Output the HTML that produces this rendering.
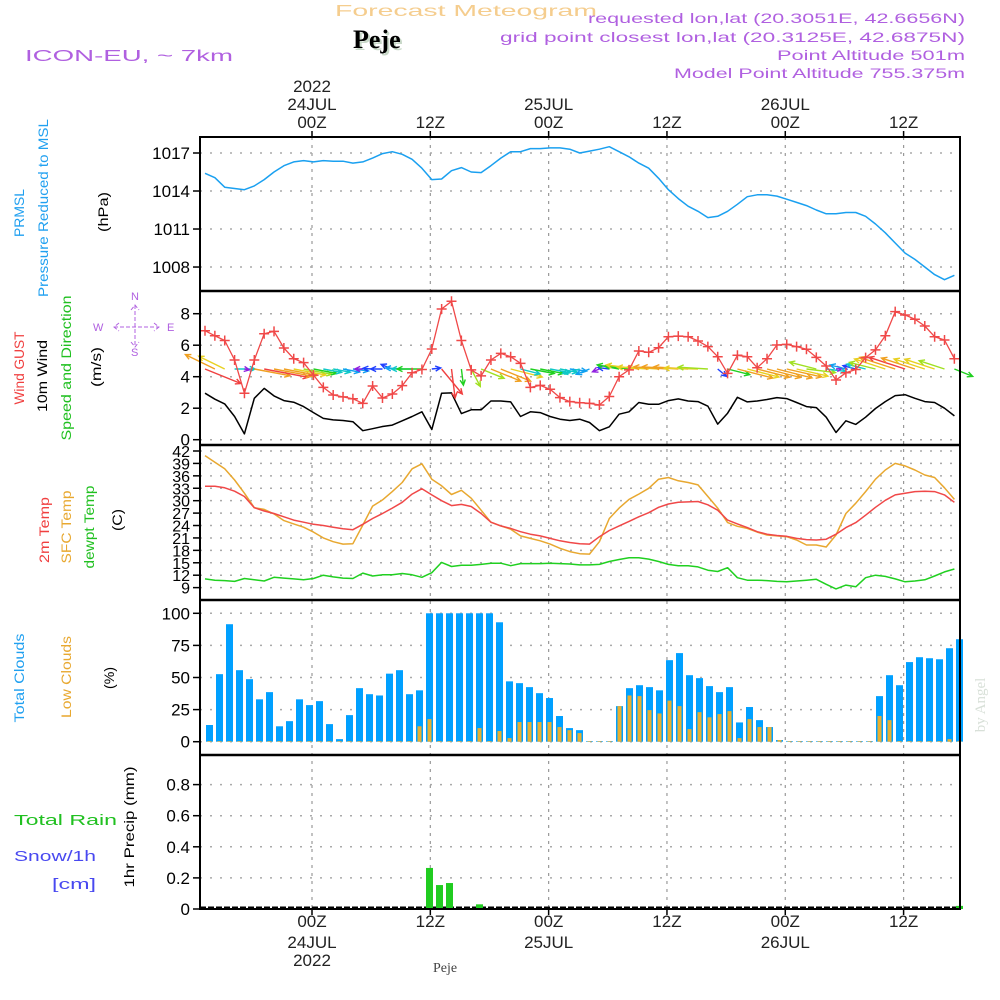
<!DOCTYPE html>
<html><head><meta charset="utf-8"><style>
html,body{margin:0;padding:0;background:#fff;}
svg{display:block;font-family:"Liberation Sans",sans-serif;}
</style></head><body>
<svg id="chart" width="1000" height="1000" viewBox="0 0 1000 1000" xmlns="http://www.w3.org/2000/svg">
<rect width="1000" height="1000" fill="#fff"/>
<g id="grid"></g>
<g id="marks"></g>
<g id="frames"></g>
<g id="labels">
<text x="335" y="16" font-size="16" fill="#f5cd8e" textLength="262" lengthAdjust="spacingAndGlyphs">Forecast Meteogram</text>
<text x="355" y="50" font-size="26" font-weight="bold" font-family="Liberation Serif,serif" fill="#c8d8c8">Peje</text>
<text x="353" y="48" font-size="26" font-weight="bold" font-family="Liberation Serif,serif" fill="#000">Peje</text>
<text x="25" y="61" font-size="16" fill="#b060e0" textLength="208" lengthAdjust="spacingAndGlyphs">ICON-EU, ~ 7km</text>
<g fill="#b060e0" font-size="14" text-anchor="end">
<text x="965" y="23" textLength="377" lengthAdjust="spacingAndGlyphs">requested lon,lat (20.3051E, 42.6656N)</text>
<text x="965" y="42" textLength="465" lengthAdjust="spacingAndGlyphs">grid point closest lon,lat (20.3125E, 42.6875N)</text>
<text x="965" y="60" textLength="188" lengthAdjust="spacingAndGlyphs">Point Altitude 501m</text>
<text x="965" y="78" textLength="291" lengthAdjust="spacingAndGlyphs">Model Point Altitude 755.375m</text>
</g>
<g font-size="14">
<text transform="translate(24,213) rotate(-90)" text-anchor="middle" fill="#20a0f0" textLength="48" lengthAdjust="spacingAndGlyphs">PRMSL</text>
<text transform="translate(48,208) rotate(-90)" text-anchor="middle" fill="#20a0f0" textLength="178" lengthAdjust="spacingAndGlyphs">Pressure Reduced to MSL</text>
<text transform="translate(108,212) rotate(-90)" text-anchor="middle" fill="#000" textLength="40" lengthAdjust="spacingAndGlyphs">(hPa)</text>
<text transform="translate(24,368) rotate(-90)" text-anchor="middle" fill="#f04040" textLength="73" lengthAdjust="spacingAndGlyphs">Wind GUST</text>
<text transform="translate(47,376) rotate(-90)" text-anchor="middle" fill="#000" textLength="72" lengthAdjust="spacingAndGlyphs">10m Wind</text>
<text transform="translate(71,368) rotate(-90)" text-anchor="middle" fill="#20c020" textLength="145" lengthAdjust="spacingAndGlyphs">Speed and Direction</text>
<text transform="translate(101,367) rotate(-90)" text-anchor="middle" fill="#000" textLength="40" lengthAdjust="spacingAndGlyphs">(m/s)</text>
<text transform="translate(49,530) rotate(-90)" text-anchor="middle" fill="#f04040" textLength="66" lengthAdjust="spacingAndGlyphs">2m Temp</text>
<text transform="translate(71,527) rotate(-90)" text-anchor="middle" fill="#e8a830" textLength="73" lengthAdjust="spacingAndGlyphs">SFC Temp</text>
<text transform="translate(94,527) rotate(-90)" text-anchor="middle" fill="#20c020" textLength="83" lengthAdjust="spacingAndGlyphs">dewpt Temp</text>
<text transform="translate(122,520) rotate(-90)" text-anchor="middle" fill="#000" textLength="22" lengthAdjust="spacingAndGlyphs">(C)</text>
<text transform="translate(24,678) rotate(-90)" text-anchor="middle" fill="#20a0f0" textLength="89" lengthAdjust="spacingAndGlyphs">Total Clouds</text>
<text transform="translate(71,677) rotate(-90)" text-anchor="middle" fill="#e8a830" textLength="82" lengthAdjust="spacingAndGlyphs">Low Clouds</text>
<text transform="translate(114,678) rotate(-90)" text-anchor="middle" fill="#000" textLength="22" lengthAdjust="spacingAndGlyphs">(%)</text>
<text transform="translate(134,827) rotate(-90)" text-anchor="middle" fill="#000" textLength="121" lengthAdjust="spacingAndGlyphs">1hr Precip (mm)</text>
</g>
<g font-size="15">
<text x="14" y="825" fill="#20c020" textLength="103" lengthAdjust="spacingAndGlyphs">Total   Rain</text>
<text x="14" y="861" fill="#4848f0" textLength="82" lengthAdjust="spacingAndGlyphs">Snow/1h</text>
<text x="52" y="889" fill="#4848f0" textLength="44" lengthAdjust="spacingAndGlyphs">[cm]</text>
</g>
<g fill="#b060e0" stroke="#b060e0" font-size="11">
<text x="131" y="300" stroke="none">N</text><text x="93" y="331" stroke="none">W</text><text x="167" y="331" stroke="none">E</text><text x="131" y="356" stroke="none">S</text>
<path d="M114 327 H159 M135 305 V347 M119 323 L114 327 L119 331 M154 323 L159 327 L154 331 M131 310 L135 305 L139 310 M131 342 L135 347 L139 342" fill="none" stroke-width="1" stroke-dasharray="4 2"/>
</g>
<text transform="translate(985,705) rotate(-90)" text-anchor="middle" font-family="Liberation Serif,serif" font-size="15" fill="#d8e0d8">by Angel</text>
<text x="445" y="972" text-anchor="middle" font-family="Liberation Serif,serif" font-size="14" fill="#444">Peje</text>
</g>
</svg>
<script>
const tickHours=[0,12,24,36,48,60];
const tickTimes=["00Z","12Z","00Z","12Z","00Z","12Z"];
const tickDates=["24JUL","","25JUL","","26JUL",""];
const tickYears=["2022","","","","",""];
const pressTicks=[1017,1014,1011,1008];
const windTicks=[0,2,4,6,8];
const tempTicks=[9,12,15,18,21,24,27,30,33,36,39,42];
const cloudTicks=[0,25,50,75,100];
const precipTicks=[0,0.2,0.4,0.6,0.8];
const pressure=[1015.4,1015.05,1014.3,1014.2,1014.1,1014.4,1014.9,1015.5,1016.0,1016.3,1016.4,1016.3,1016.4,1016.35,1016.35,1016.2,1016.3,1016.6,1016.95,1017.1,1016.9,1016.5,1015.8,1014.9,1014.95,1015.6,1015.85,1015.5,1015.45,1016.0,1016.6,1017.1,1017.1,1017.35,1017.35,1017.4,1017.4,1017.3,1017.0,1017.15,1017.3,1017.5,1017.1,1016.7,1016.2,1015.8,1015.0,1014.1,1013.4,1012.8,1012.4,1011.9,1012.0,1012.4,1012.95,1013.55,1013.7,1013.7,1013.6,1013.35,1013.1,1012.85,1012.5,1012.2,1012.2,1012.3,1012.3,1012.0,1011.4,1010.7,1009.9,1009.1,1008.6,1008.0,1007.4,1007.0,1007.35];
const gust=[6.92,6.6,6.3,5.06,2.95,5.06,6.73,6.88,5.82,5.14,4.89,4.1,3.32,2.84,2.72,2.6,2.31,3.41,2.65,2.9,3.43,4.25,4.46,5.76,8.3,8.79,6.3,4.43,4.05,5.06,5.48,5.27,4.85,3.32,3.45,3.2,2.67,2.42,2.35,2.31,2.2,2.74,4.0,4.43,5.63,5.55,5.84,6.54,6.58,6.54,6.27,5.91,5.27,4.21,5.36,5.27,4.57,5.14,6.01,6.05,5.91,5.74,5.23,4.68,3.79,4.25,4.46,5.21,5.7,6.6,8.13,7.92,7.65,7.22,6.54,6.33,5.14];
const wind10=[2.95,2.57,2.27,1.47,0.37,2.63,3.26,2.78,2.48,2.38,2.1,1.72,1.35,1.26,1.22,1.14,0.57,0.7,0.84,0.93,1.2,1.47,1.77,0.65,2.95,2.97,1.66,1.9,1.9,2.46,2.46,2.4,1.47,1.77,1.72,1.47,1.3,1.22,1.3,1.09,0.57,0.82,1.62,1.77,2.36,2.25,2.25,2.48,2.59,2.46,2.42,2.13,0.99,1.68,2.69,2.4,2.46,2.55,2.67,2.61,2.36,2.1,2.04,1.43,0.46,1.2,0.97,1.43,1.98,2.42,2.8,2.86,2.63,2.42,2.36,2.0,1.51];
const windToDir=[120,305,305,90,105,105,105,105,105,105,105,105,105,105,105,100,270,275,270,300,275,270,270,80,150,175,175,160,120,120,120,110,110,105,105,105,105,100,250,240,240,280,285,280,280,275,275,275,275,275,272,275,140,110,110,110,110,110,110,108,108,100,290,100,80,290,290,290,290,295,295,295,295,295,295,295,120];
const temp2m=[33.5,33.5,33.1,32.3,31.0,28.3,27.5,26.9,26.1,25.3,24.8,24.3,24.0,23.6,23.2,23.0,24.3,25.7,26.9,28.2,29.6,31.6,32.9,31.4,30.0,28.8,29.1,28.6,26.9,24.8,23.9,23.3,22.5,21.9,21.5,20.9,20.3,19.9,19.6,19.5,21.3,22.8,23.9,25.0,26.1,27.1,28.4,29.2,29.6,29.7,29.8,29.0,27.7,25.3,24.4,23.5,22.5,21.9,21.6,21.4,20.9,20.6,20.5,20.7,21.9,23.5,24.7,26.5,28.4,30.1,31.4,31.8,32.2,32.3,32.2,31.4,29.6];
const tempSfc=[40.9,39.3,37.7,35.0,31.8,28.3,27.9,26.8,25.2,24.4,23.6,22.4,21.0,20.1,19.5,19.6,24.1,28.7,30.2,32.2,34.4,37.7,38.9,35.2,33.6,31.5,32.5,30.6,27.7,24.8,23.9,23.1,21.5,20.9,20.3,19.5,18.5,17.7,17.2,17.1,20.1,25.7,28.2,30.3,31.6,33.0,35.2,35.6,34.8,34.4,33.8,31.0,28.2,24.7,23.8,23.3,22.4,21.7,21.5,21.3,20.5,19.3,19.3,18.8,21.7,26.9,29.4,32.2,35.2,37.4,39.0,38.4,37.4,36.2,35.6,33.1,30.3];
const dewpt=[11.1,10.8,10.7,10.5,11.2,10.9,10.6,11.5,11.3,11.1,10.9,11.2,12.0,11.6,11.3,11.2,12.5,11.8,12.1,12.1,12.4,12.1,11.5,12.6,15.1,14.1,14.4,14.4,14.6,14.9,14.9,14.3,14.8,14.8,14.8,14.9,14.8,14.7,14.5,14.5,14.6,15.3,15.8,16.2,16.2,15.9,15.3,14.6,14.3,14.3,14.0,13.2,12.9,13.8,11.4,10.8,10.8,10.7,10.5,10.4,10.6,10.8,11.0,9.8,8.7,9.6,9.2,11.4,12.0,11.7,11.1,10.4,10.6,10.9,11.8,12.8,13.5];
const totalClouds=[13,52.6,91.5,55.7,48.7,33,38.6,12,16,33,28.5,31.6,13.7,2,20.7,41.7,37,36,53,55.7,37,40,100,100,100,100,100,100,100,93,47,45.6,42.5,37.8,34,20,10.6,9,0.5,0.5,0.5,27.7,41.7,44,42.5,40,63.5,69,51.8,49.5,43.3,38.6,42.5,15,27,16.8,11.4,1.3,0.5,0.5,0.5,0.5,0.5,0.5,0.5,0.5,0.5,35.5,51.8,44,62,65.8,65,64.2,72.8,79.8];
const lowClouds=[0.5,0.5,0.5,0.5,0.5,0.5,0.5,0.5,0.5,0.5,0.5,0.5,0.5,0.5,0.5,0.5,0.5,0.5,0.5,0.5,0.5,12,17.6,0.5,0.5,0.5,0.5,10.6,0.5,8.3,2.8,15.3,15.3,15.3,15.3,11.4,9,6.7,0.5,0.5,0.5,27.7,36,35.5,24.6,22,32,27.7,9.8,23,19,21.5,23.8,2.8,17.6,11.4,11.4,1.3,0.5,0.5,0.5,0.5,0.5,0.5,0.5,0.5,0.5,20,16.8,0.5,0.5,0.5,0.5,0.5,2,0.5];
const precip=[0,0,0,0,0,0,0,0,0,0,0,0,0,0,0,0,0,0,0,0,0,0,0.264,0.154,0.167,0,0,0.03,0,0,0,0,0,0,0,0,0,0,0,0,0,0,0,0,0,0,0,0,0,0,0,0,0,0,0,0,0,0,0,0,0,0,0,0,0,0,0,0,0,0,0,0,0,0,0,0.02];

const NS="http://www.w3.org/2000/svg";
const L=200,R=960;
const panels=[[137,291],[291,445],[445,600],[600,755],[755,909]];
const xT=h=>312+h*9.86;
const xL=k=>205+k*9.86;
const xB=i=>209.5+i*10;
const yP=v=>153+(1017-v)*12.67;
const yW=v=>439.7-v*15.75;
const yT=v=>451+(42-v)*4.14;
const yC=v=>741.7-v*1.284;
const yR=v=>909-v*155.5;
function mk(tag,attrs,parent){const e=document.createElementNS(NS,tag);for(const k in attrs)e.setAttribute(k,attrs[k]);parent.appendChild(e);return e;}
const grid=document.getElementById('grid'),marks=document.getElementById('marks'),frames=document.getElementById('frames'),labels=document.getElementById('labels');

tickHours.forEach((h,j)=>{
  const ln=mk('line',{x1:xT(h),x2:xT(h),y1:137,y2:909,stroke:'#999','stroke-width':1.2,'stroke-dasharray':'3 5'},grid);
  
  
  const tk=mk('line',{x1:xT(h),x2:xT(h),y1:131,y2:137,stroke:'#000','stroke-width':1.5},frames);
  
  
  const tb=mk('line',{x1:xT(h),x2:xT(h),y1:909,y2:915,stroke:'#000','stroke-width':1.5},frames);
  
  
  const t1=mk('text',{x:xT(h),y:128,'text-anchor':'middle','font-size':17,fill:'#222'},labels);t1.textContent=tickTimes[j];
  
  
  const b1=mk('text',{x:xT(h),y:927,'text-anchor':'middle','font-size':17,fill:'#222'},labels);b1.textContent=tickTimes[j];
  
  
  if(tickDates[j]){
    const t2=mk('text',{x:xT(h),y:110,'text-anchor':'middle','font-size':17,fill:'#222'},labels);t2.textContent=tickDates[j];
    
    
    const b2=mk('text',{x:xT(h),y:948,'text-anchor':'middle','font-size':17,fill:'#222'},labels);b2.textContent=tickDates[j];
    
    
  }
  if(tickYears[j]){
    const t3=mk('text',{x:xT(h),y:92,'text-anchor':'middle','font-size':17,fill:'#222'},labels);t3.textContent=tickYears[j];
    
    
    const b3=mk('text',{x:xT(h),y:966,'text-anchor':'middle','font-size':17,fill:'#222'},labels);b3.textContent=tickYears[j];
    
    
  }
});

function yAxis(ticks,scale,fmt,name,fs,gridOn){
  ticks.forEach(v=>{
    const y=scale(v);
    if(gridOn){const g=mk('line',{x1:L,x2:R,y1:y,y2:y,stroke:'#aaa','stroke-width':1.5,'stroke-dasharray':'2 8'},grid);
      
      }
    const t=mk('line',{x1:L-7,x2:L,y1:y,y2:y,stroke:'#000','stroke-width':1.5},frames);
    
    
    const tx=mk('text',{x:L-10,y:y+6,'text-anchor':'end','font-size':fs,fill:'#000'},labels);tx.textContent=fmt(v);
    
    
  });
}
yAxis(pressTicks,yP,v=>String(v),'pressure-axis',17,true);
yAxis(windTicks,yW,v=>String(v),'wind-axis',17,true);
yAxis(tempTicks,yT,v=>String(v),'temp-axis',16,true);
yAxis(cloudTicks,yC,v=>String(v),'cloud-axis',17,true);
yAxis(precipTicks,yR,v=>v===0?'0':v.toFixed(1),'precip-axis',17,true);

function line(arr,xs,ys,color,name,w){
  const d=arr.map((v,k)=>(k?'L':'M')+xs(k).toFixed(1)+' '+ys(v).toFixed(1)).join(' ');
  const p=mk('path',{d:d,fill:'none',stroke:color,'stroke-width':w||1.5,'stroke-linejoin':'round'},marks);
  
  
}
totalClouds.forEach((v,i)=>{
  const r=mk('rect',{x:xB(i)-3.5,y:yC(v),width:7,height:yC(0)-yC(v),fill:'#00a0ff'},marks);
  
  
});
lowClouds.forEach((v,i)=>{
  const r=mk('rect',{x:xB(i)-2,y:yC(v),width:4,height:yC(0)-yC(v),fill:'#e8b030'},marks);
  
  
});
const zl=mk('line',{x1:L,x2:R,y1:907.5,y2:907.5,stroke:'#000','stroke-width':2,'stroke-dasharray':'6 2'},marks);


precip.forEach((v,i)=>{
  if(v<=0)return;
  const r=mk('rect',{x:xB(i)-3.5,y:yR(v),width:7,height:yR(0)-yR(v),fill:'#20cc20'},marks);
  
  
});
line(pressure,xL,yP,'#1aa0f0','pressure-line',1.5);
line(dewpt,xL,yT,'#20d020','dewpoint-line',1.5);
line(tempSfc,xL,yT,'#e8a830','sfc-temp-line',1.5);
line(temp2m,xL,yT,'#f04848','temp-2m-line',1.5);
line(wind10,xL,yW,'#000','wind-10m-line',1.5);
function spdColor(s){
  if(s<0.6)return '#9020e0';if(s<1.0)return '#2040ff';if(s<1.25)return '#10a0f0';if(s<1.5)return '#10c8c8';
  if(s<1.85)return '#20d020';if(s<2.2)return '#a0e020';if(s<2.45)return '#e8d020';if(s<2.85)return '#f0a020';return '#f04040';
}
windToDir.forEach((dgr,k)=>{
  const s=wind10[k],len=Math.max(5,s*14),a=dgr*Math.PI/180;
  const x0=xL(k),y0=369,x1=x0+Math.sin(a)*len,y1=y0-Math.cos(a)*len*0.7;
  const ang=Math.atan2(y1-y0,x1-x0),h=6;
  const d=`M${x0.toFixed(1)} ${y0} L${x1.toFixed(1)} ${y1.toFixed(1)} M${(x1-h*Math.cos(ang-0.45)).toFixed(1)} ${(y1-h*Math.sin(ang-0.45)).toFixed(1)} L${x1.toFixed(1)} ${y1.toFixed(1)} L${(x1-h*Math.cos(ang+0.45)).toFixed(1)} ${(y1-h*Math.sin(ang+0.45)).toFixed(1)}`;
  const p=mk('path',{d:d,fill:'none',stroke:spdColor(s),'stroke-width':1.4},marks);
  
  
});
line(gust,xL,yW,'#f04848','wind-gust-line',1.3);
gust.forEach((v,k)=>{
  const x=xL(k),y=yW(v);
  const p=mk('path',{d:`M${x-5} ${y} H${x+5} M${x} ${y-5} V${y+5}`,stroke:'#f04848','stroke-width':1.5},marks);
  
  
});
mk('rect',{x:L,y:137,width:R-L,height:909-137,fill:'none',stroke:'#000','stroke-width':2},frames);
panels.slice(1).forEach(p=>{
  const s=mk('line',{x1:L,x2:R,y1:p[0],y2:p[0],stroke:'#000','stroke-width':2.5},frames);
  
  
});
</script>
</body></html>
